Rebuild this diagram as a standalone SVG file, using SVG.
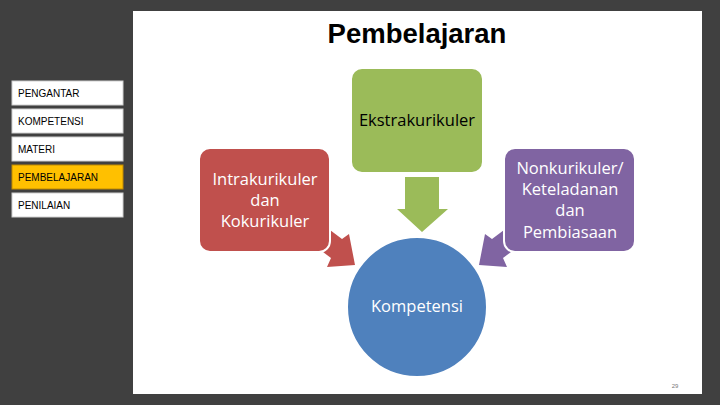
<svg xmlns="http://www.w3.org/2000/svg" width="720" height="405" viewBox="0 0 720 405">
<style>
.menu rect{fill:#fff;stroke:#d0d0d0;stroke-width:1}
.menu text{font-family:"Liberation Sans",Arial,sans-serif;font-size:10px;fill:#000}
.lbl{font-family:"Open Sans","Noto Sans",sans-serif;font-size:16.5px;text-anchor:middle}
.box{stroke:#fff;stroke-width:2}
</style>
<rect width="720" height="405" fill="#404040"/>
<rect x="133" y="11" width="569" height="383" fill="#fff"/>
<text x="417" y="43" text-anchor="middle" font-family="'Liberation Sans',Arial,sans-serif" font-weight="bold" font-size="27.5" fill="#000">Pembelajaran</text>
<g class="menu">
<g id="m-pengantar"><rect x="12" y="81" width="111" height="24"/><text x="18" y="97">PENGANTAR</text></g>
<g id="m-kompetensi"><rect x="12" y="109" width="111" height="24"/><text x="18" y="125">KOMPETENSI</text></g>
<g id="m-materi"><rect x="12" y="137" width="111" height="24"/><text x="18" y="153">MATERI</text></g>
<g id="m-pembelajaran"><rect x="12" y="165" width="111" height="24" style="fill:#FFC000;stroke:#c08a00"/><text x="18" y="181">PEMBELAJARAN</text></g>
<g id="m-penilaian"><rect x="12" y="193" width="111" height="24"/><text x="18" y="209">PENILAIAN</text></g>
</g>
<g id="connectors">
<polygon points="405,177 439,177 439,209 448,209 422,232 397,209 405,209" fill="#9BBB59"/>
<polygon points="310,215 342,239 349,234 355,265 327,267 331,258 299,234" fill="#C0504D"/>
<polygon points="524,215 492,239 485,234 479,265 507,267 503,258 535,234" fill="#8064A2"/>
</g>
<g id="ekstra">
<rect class="box" x="351" y="68" width="132" height="105" rx="11" fill="#9BBB59"/>
<text class="lbl" x="417" y="126" fill="#000">Ekstrakurikuler</text>
</g>
<g id="intra">
<rect class="box" x="199" y="148" width="131" height="104" rx="11" fill="#C0504D"/>
<text class="lbl" x="265" y="185" fill="#fff">Intrakurikuler</text>
<text class="lbl" x="265" y="206" fill="#fff">dan</text>
<text class="lbl" x="265" y="227" fill="#fff">Kokurikuler</text>
</g>
<g id="nonkuri">
<rect class="box" x="504" y="148" width="131" height="104" rx="11" fill="#8064A2"/>
<text class="lbl" x="570" y="174" fill="#fff">Nonkurikuler/</text>
<text class="lbl" x="570" y="195" fill="#fff">Keteladanan</text>
<text class="lbl" x="570" y="216" fill="#fff">dan</text>
<text class="lbl" x="570" y="238" fill="#fff">Pembiasaan</text>
</g>
<g id="kompetensi">
<circle class="box" cx="417" cy="307" r="70" fill="#4F81BD"/>
<text class="lbl" x="417" y="312" fill="#fff">Kompetensi</text>
</g>
<text x="675" y="388" text-anchor="middle" font-family="'Liberation Sans',Arial,sans-serif" font-size="6" fill="#777">29</text>
</svg>
